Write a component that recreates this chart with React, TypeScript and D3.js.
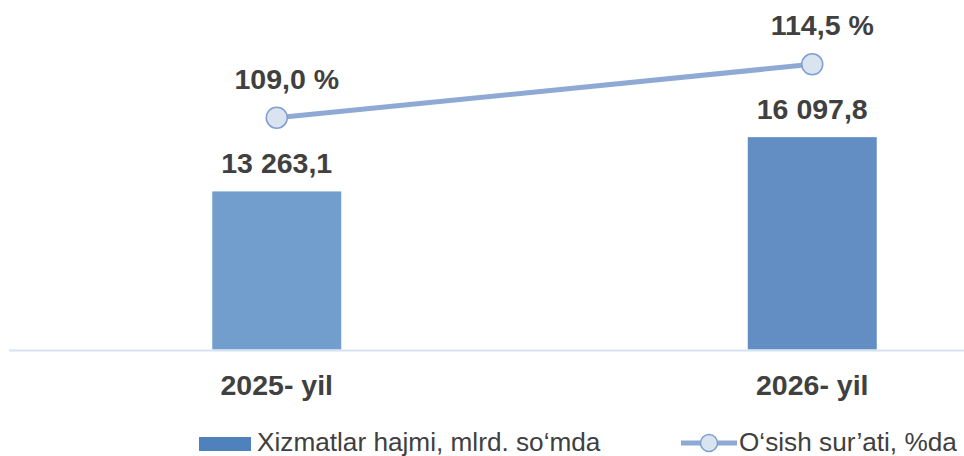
import React from "react";
import * as d3 from "d3";

const categories = ["2025- yil", "2026- yil"];
const volumeValues = [13263.1, 16097.8];
const volumeLabels = ["13 263,1", "16 097,8"];
const growthValues = [109.0, 114.5];
const growthLabels = ["109,0 %", "114,5 %"];
const legendNames = ["Xizmatlar hajmi, mlrd. so‘mda", "O‘sish sur’ati, %da"];

const W = 964;
const H = 456;
const barColors = ["#729ece", "#628ec3"];
const lineColor = "#8eaad4";
const textColor = "#404040";
const font = "'Liberation Sans', Arial, sans-serif";
const labelSize = 28.5;

export default function App() {
  const x = d3.scaleBand<string>().domain(categories).range([9, 1080]).paddingInner(0).paddingOuter(0);
  const barW = 129;
  const yBar = d3.scaleLinear().domain([5000, 20000]).range([349.5, 62.5]);
  const yLine = d3.scaleLinear().domain([100, 120]).range([205.1, 10.9]);
  const cx = (c: string) => (x(c) as number) + x.bandwidth() / 2;

  const line = d3
    .line<number>()
    .x((_, i) => cx(categories[i]))
    .y((d) => yLine(d));

  return (
    <svg
      width={W}
      height={H}
      style={{ position: "absolute", left: 0, top: 0, background: "#fff" }}
      fontFamily={font}
    >
      {categories.map((c, i) => (
        <rect
          key={c}
          x={cx(c) - barW / 2}
          y={yBar(volumeValues[i])}
          width={barW}
          height={yBar(5000) - yBar(volumeValues[i])}
          fill={barColors[i]}
        />
      ))}
      <line x1={9} x2={W} y1={350.5} y2={350.5} stroke="#d6e2f2" strokeWidth={2} />
      {categories.map((c, i) => (
        <text
          key={"vl" + c}
          x={cx(c)}
          y={yBar(volumeValues[i]) - 18}
          textAnchor="middle"
          fontSize={labelSize}
          fontWeight="bold"
          fill={textColor}
        >
          {volumeLabels[i]}
        </text>
      ))}
      <path d={line(growthValues) || ""} fill="none" stroke={lineColor} strokeWidth={5} />
      {categories.map((c, i) => (
        <circle
          key={"pt" + c}
          cx={cx(c)}
          cy={yLine(growthValues[i])}
          r={10.5}
          fill="#dae3f0"
          stroke="#7f9fd0"
          strokeWidth={1.5}
        />
      ))}
      {categories.map((c, i) => (
        <text
          key={"gl" + c}
          x={cx(c) + 10}
          y={yLine(growthValues[i]) - 29}
          textAnchor="middle"
          fontSize={labelSize}
          fontWeight="bold"
          fill={textColor}
        >
          {growthLabels[i]}
        </text>
      ))}
      {categories.map((c) => (
        <text
          key={"cat" + c}
          x={cx(c)}
          y={395}
          textAnchor="middle"
          fontSize={labelSize}
          fontWeight="bold"
          fill={textColor}
        >
          {c}
        </text>
      ))}
      <g>
        <rect x={199} y={437} width={52} height={14} fill="#4f81bd" />
        <text x={257} y={451} fontSize={26.2} fill={textColor}>
          {legendNames[0]}
        </text>
        <line x1={681} x2={737} y1={443} y2={443} stroke={lineColor} strokeWidth={5} />
        <circle cx={709} cy={443} r={8.5} fill="#dae3f0" stroke="#7f9fd0" strokeWidth={1.5} />
        <text x={739} y={451} fontSize={26.2} fill={textColor}>
          {legendNames[1]}
        </text>
      </g>
    </svg>
  );
}
